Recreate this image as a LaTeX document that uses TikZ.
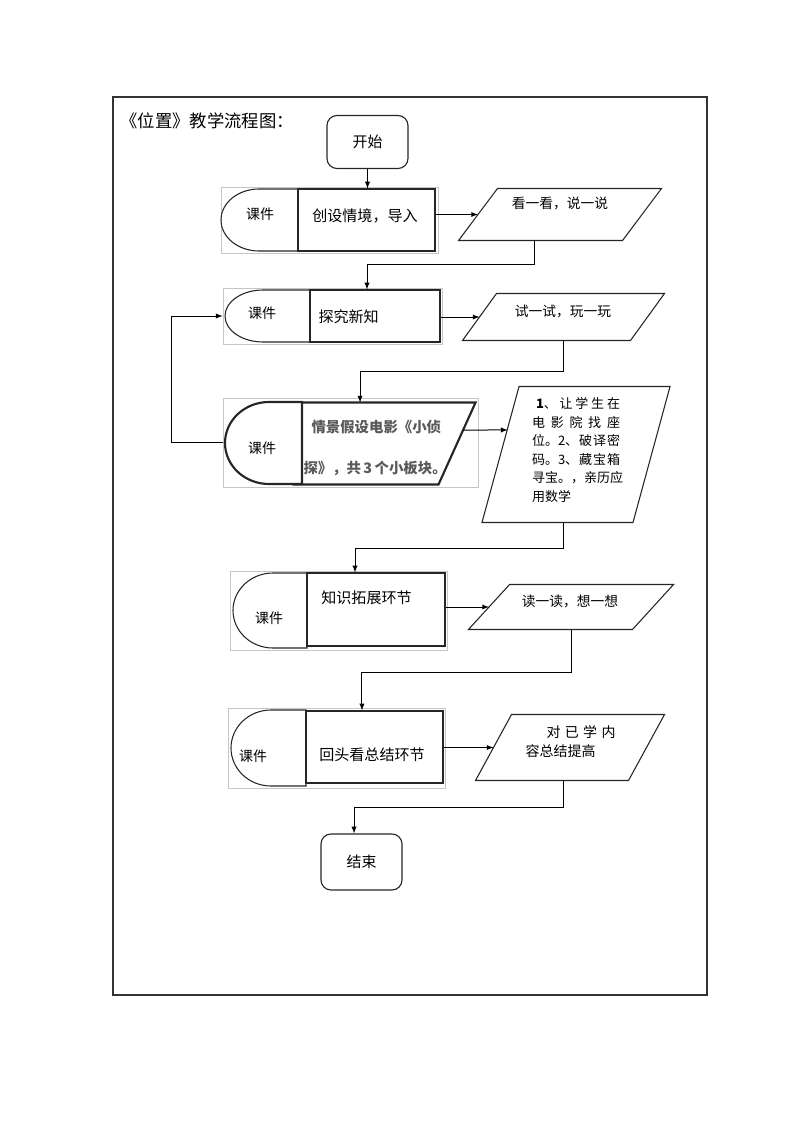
\documentclass[tikz,border=0pt]{standalone}
\usepackage{fontspec}
\setmainfont{Noto Sans CJK SC}
\usepackage{tikz}
\usetikzlibrary{arrows}
\tikzstyle{term}=[rectangle,rounded corners=7.5pt,draw=black!85,line width=0.85pt,minimum width=60.75pt,font=\fontsize{11.2}{13}\selectfont]
\tikzstyle{task}=[rectangle,draw=black!85,line width=0.85pt]
\tikzstyle{kit}=[rectangle,draw=gray!45,line width=0.6pt]
\tikzstyle{dcap}=[draw=black!85,line width=0.8pt]
\tikzstyle{heavy}=[draw=black!85,line width=1.6pt]
\tikzstyle{io}=[rectangle,inner sep=0pt]
\tikzstyle{txt}=[font=\fontsize{11.3}{13}\selectfont]
\tikzstyle{ware}=[font=\fontsize{10.5}{12}\selectfont]
\tikzstyle{iotxt}=[font=\fontsize{10.3}{12}\selectfont]

\begin{document}
\begin{tikzpicture}[x=0.75pt,y=-0.75pt,>=latex,line width=0.75pt]
        \useasboundingbox (0,0) rectangle (794,1123);
        \draw [line width=1.8pt,black!80] (113,97) rectangle (707,995);
        \node at (120,121) [anchor=west,inner sep=0pt,font=\fontsize{13}{15}\selectfont] (title) {《位置》教学流程图：};

        \node at (367.5,142) [term,minimum height=39.75pt] (start) {开始};
        \node at (361.5,862) [term,minimum height=42pt] (stop) {结束};

        \node at (329.5,220) [kit,minimum width=162.75pt,minimum height=49.5pt] (g1) {};
        \draw [dcap] (298,189) -- (259,189) arc[start angle=90,end angle=270,x radius=28.5pt,y radius=23.25pt] -- (298,251) -- cycle;
        \node at (366.5,220) [task,minimum width=102.75pt,minimum height=46.5pt] (b1) {};
        \node at (260,214) [ware] (k1) {课件};
        \node at (365,216) [txt] (t1) {创设情境，导入};

        \node at (332.5,316) [kit,minimum width=164.25pt,minimum height=42pt] (g2) {};
        \draw [dcap] (310,290) -- (263,290) arc[start angle=90,end angle=270,x radius=28.5pt,y radius=19.5pt] -- (310,342) -- cycle;
        \node at (375,316) [task,minimum width=97.5pt,minimum height=39pt] (b2) {};
        \node at (262,313) [ware] (k2) {课件};
        \node at (318,317) [txt,anchor=west,inner sep=0pt] (t2) {探究新知};

        \node at (350.5,442.5) [kit,minimum width=191.25pt,minimum height=66.75pt] (g3) {};
        \draw [heavy] (302,402) -- (269,402) arc[start angle=90,end angle=270,x radius=33pt,y radius=30.75pt] -- (302,484) -- cycle;
        \node at (379.25,443.5) [io,minimum width=115.9pt,minimum height=60.75pt] (b3) {};
        \draw [heavy] (b3.north west) -- ([xshift=13.9pt]b3.north east) -- ([xshift=-13.9pt]b3.south east) -- ([xshift=-6.75pt]b3.south west);
        \node at (262,448) [ware] (k3) {课件};
        \node at (303,447.5) [anchor=west,inner sep=0pt,align=left,text=black!65,font=\fontsize{10.8}{30.75}\selectfont\bfseries] (t3) {\hspace*{6pt}情景假设电影《小侦\\探》，共\,3\,个小板块。};

        \node at (338.5,610.5) [kit,minimum width=162.75pt,minimum height=59.25pt] (g4) {};
        \draw [dcap] (307,573) -- (273,573) arc[start angle=90,end angle=270,x radius=30pt,y radius=28.125pt] -- (307,648) -- cycle;
        \node at (376,609.5) [task,minimum width=103.5pt,minimum height=54.75pt] (b4) {};
        \node at (269,618) [ware] (k4) {课件};
        \node at (366.5,598) [txt] (t4) {知识拓展环节};

        \node at (336.5,748) [kit,minimum width=162.75pt,minimum height=60pt] (g5) {};
        \draw [dcap] (306,710) -- (271,710) arc[start angle=90,end angle=270,x radius=30pt,y radius=28.5pt] -- (306,786) -- cycle;
        \node at (374.5,747) [task,minimum width=102.75pt,minimum height=54pt] (b5) {};
        \node at (253,756) [ware] (k5) {课件};
        \node at (372,755) [txt] (t5) {回头看总结环节};

        \node at (560,214.5) [io,minimum width=122.25pt,minimum height=38.25pt] (p1) {};
        \draw [dcap] ([xshift=-14.6pt]p1.south west) -- ([xshift=14.6pt]p1.north west) -- ([xshift=14.6pt]p1.north east) -- ([xshift=-14.6pt]p1.south east) -- cycle;
        \node at (560,203) [iotxt] (tp1) {看一看，说一说};

        \node at (563.5,317) [io,minimum width=125.25pt,minimum height=34.5pt] (p2) {};
        \draw [dcap] ([xshift=-12.75pt]p2.south west) -- ([xshift=12.75pt]p2.north west) -- ([xshift=12.75pt]p2.north east) -- ([xshift=-12.75pt]p2.south east) -- cycle;
        \node at (563,311) [iotxt] (tp2) {试一试，玩一玩};

        \node at (576,454.5) [io,minimum width=112.5pt,minimum height=101.25pt] (p4) {};
        \draw [dcap] ([xshift=-13.9pt]p4.south west) -- ([xshift=13.9pt]p4.north west) -- ([xshift=13.9pt]p4.north east) -- ([xshift=-13.9pt]p4.south east) -- cycle;
        \node at (576,450) [align=left,inner sep=0pt,font=\fontsize{9.75}{13.9}\selectfont] (tp4) {%
          \makebox[66pt][s]{\hspace*{3pt}\textbf{1}、\hfill 让\hfill 学\hfill 生\hfill 在}\\
          \makebox[66pt][s]{电\hfill 影\hfill 院\hfill 找\hfill 座}\\
          \makebox[66pt][s]{位。2、\hfill 破\hfill 译\hfill 密}\\
          \makebox[66pt][s]{码。3、\hfill 藏\hfill 宝\hfill 箱}\\
          \makebox[66pt][s]{寻宝。，亲\hfill 历\hfill 应}\\
          \makebox[66pt][l]{用数学}};

        \node at (571,607) [io,minimum width=122.25pt,minimum height=33pt] (p5) {};
        \draw [dcap] ([xshift=-15.4pt]p5.south west) -- ([xshift=15.4pt]p5.north west) -- ([xshift=15.4pt]p5.north east) -- ([xshift=-15.4pt]p5.south east) -- cycle;
        \node at (570,601) [iotxt] (tp5) {读一读，想一想};

        \node at (570,747.5) [io,minimum width=114pt,minimum height=48.75pt] (p6) {};
        \draw [dcap] ([xshift=-13.5pt]p6.south west) -- ([xshift=13.5pt]p6.north west) -- ([xshift=13.5pt]p6.north east) -- ([xshift=-13.5pt]p6.south east) -- cycle;
        \node at (525,741.5) [anchor=west,align=left,inner sep=0pt,font=\fontsize{10.5}{14.25}\selectfont] (tp6) {%
          \hspace*{15.75pt}\makebox[51.75pt][s]{对\hfill 已\hfill 学\hfill 内}\\
          容总结提高};

        \draw [->] (start) -- (start |- b1.north);
        \draw [->] (b1.east |- p1.west) -- (p1.west);
        \draw [->] ([xshift=-19pt]p1.south) -- ++(0,24) -| ([xshift=-6pt]b2.north);
        \draw [->] (b2.east |- p2.west) -- (p2.west);
        \draw [->] (p2.south) -- ++(0,31) -| ([xshift=-14.4pt]b3.north);
        \draw [->] (g3.west) -- ++(-51,0) |- (g2.west);
        \draw [->] ([xshift=4.6pt,yshift=10.1pt]b3.east) -- ([xshift=5.4pt,yshift=18.4pt]p4.west);
        \draw [->] ([xshift=-9.75pt]p4.south) -- ++(0,26) -| ([xshift=-15.75pt]b4.north);
        \draw [->] (b4.east |- p5.west) -- (p5.west);
        \draw [->] (p5.south) -- ++(0,43) -| ([xshift=-9.4pt]b5.north);
        \draw [->] (b5.east |- p6.west) -- (p6.west);
        \draw [->] ([xshift=-5.25pt]p6.south) -- ++(0,27) -| ([xshift=-5.6pt]stop.north);
      \end{tikzpicture}
\end{document}
